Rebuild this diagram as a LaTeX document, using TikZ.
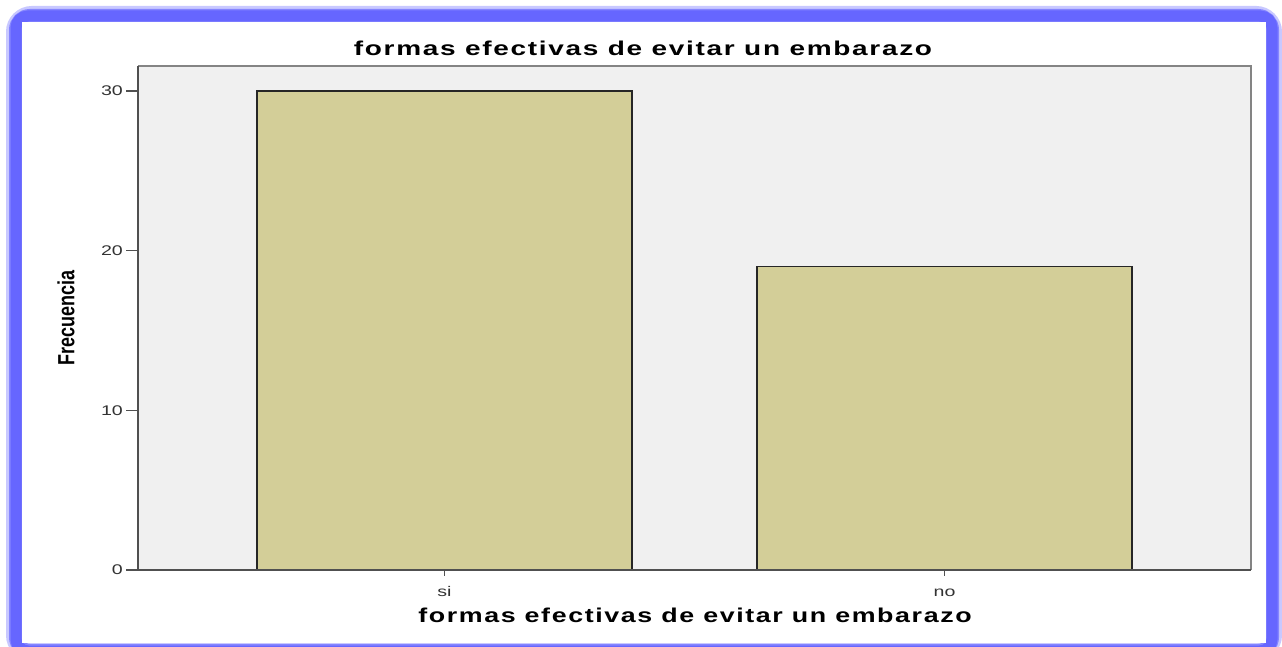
\documentclass[tikz,border=0pt]{standalone}
\usepackage{fontspec}
\usepackage{graphicx}
\setmainfont{Liberation Sans}
\newfontfamily\spacedfont[LetterSpace=6]{Liberation Sans}
\definecolor{frameblue}{HTML}{6666FF}
\definecolor{glowblue}{HTML}{C8C8FF}
\definecolor{plotbg}{HTML}{F0F0F0}
\definecolor{barfill}{HTML}{D3CE98}
\definecolor{axisgray}{HTML}{505050}
\definecolor{ticktext}{HTML}{333333}
\tikzset{
  barbox/.style={fill=barfill, draw=black!85, line width=1.3pt},
  ticklab/.style={text=ticktext, font=\fontsize{14}{14}\selectfont, inner sep=0pt},
  axistitle/.style={text=black, font=\spacedfont\bfseries\fontsize{20}{20}\selectfont, inner sep=0pt},
  tickline/.style={draw=axisgray, line width=1.5pt}
}
\begin{document}
\begin{tikzpicture}[x=1pt,y=-1pt]
\useasboundingbox (0,0) rectangle (1282,647);
\begin{scope}
\clip (0,0) rectangle (1282,647);
% glow and blue frame
\draw[glowblue, line width=20pt, rounded corners=16pt] (16,16) rectangle (1272,651);
\draw[frameblue!80, line width=14pt, rounded corners=14pt] (16,16) rectangle (1272,651);
\draw[frameblue, line width=11pt, rounded corners=12pt] (16,16) rectangle (1272,651);
\fill[white] (22,22) rectangle (1266,643);
\end{scope}
% plot area
\fill[plotbg] (138,66) rectangle (1251,570);
\draw[draw=axisgray!70, line width=1.5pt] (138,66) -- (1251,66) -- (1251,570);
% bars
\draw[barbox] (257,570) rectangle (632,91);
\draw[barbox] (757,570) rectangle (1132,266.5);
% axes
\draw[tickline] (138,66) -- (138,570) -- (1251,570);
% y ticks
\foreach \v/\yy in {0/570,10/410.3,20/250.7,30/91}{
  \draw[tickline] (126,\yy) -- (138,\yy);
  \node[ticklab, anchor=east] (yt\v) at (123,\yy) {\scalebox{1.4}[1]{\v}};
}
% x ticks
\draw[tickline] (444.5,570) -- (444.5,576);
\draw[tickline] (944.5,570) -- (944.5,576);
\node[ticklab, anchor=base] (xsi) at (444.5,596) {\scalebox{1.4}[1]{si}};
\node[ticklab, anchor=base] (xno) at (944.5,596) {\scalebox{1.4}[1]{no}};
% titles
\node[axistitle, anchor=base] (title) at (643,56) {\scalebox{1.4}[1]{formas efectivas de evitar un embarazo}};
\node[axistitle, anchor=base] (xtitle) at (695,622) {\scalebox{1.34}[1]{formas efectivas de evitar un embarazo}};
\node[text=black, inner sep=0pt, font=\bfseries\fontsize{18}{18}\selectfont] (ytitle) at (66,318) {\scalebox{1.3}[1]{\rotatebox{90}{Frecuencia}}};
\end{tikzpicture}
\end{document}
